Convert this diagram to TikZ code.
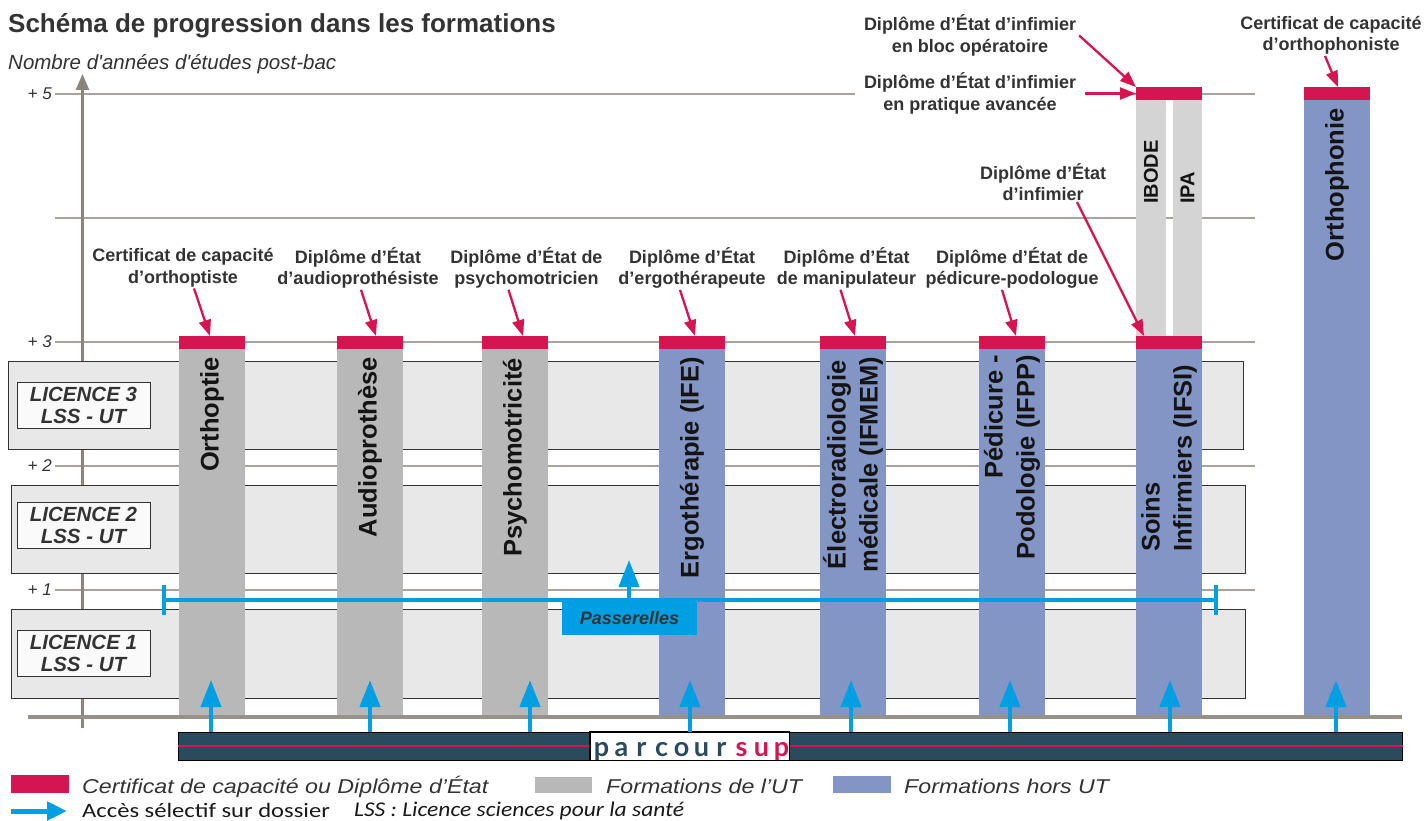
\documentclass[tikz,border=0pt]{standalone}
\usepackage{fontspec}
\setmainfont{Liberation Sans}
\newfontfamily\legfont[FakeStretch=1.16]{Liberation Sans}
\newfontfamily\accfont[FakeStretch=1.2]{Carlito}
\newfontfamily\lssfont[FakeStretch=1.12]{Carlito}
\newfontfamily\logofont{Lato}
\usetikzlibrary{arrows.meta}
\definecolor{crim}{HTML}{D41551}
\definecolor{graybar}{HTML}{B8B8B8}
\definecolor{lightbar}{HTML}{D4D4D4}
\definecolor{bluebar}{HTML}{8395C5}
\definecolor{bandc}{HTML}{E8E8E8}
\definecolor{cyanx}{HTML}{009FE3}
\definecolor{navy}{HTML}{2A4A5E}
\definecolor{txt}{HTML}{333333}
\definecolor{gridc}{HTML}{A8A39B}
\definecolor{axisc}{HTML}{8A857C}
\newcommand\fsz[2]{\fontsize{#1}{#2}\selectfont}
\begin{document}
\begin{tikzpicture}[x=1pt,y=-1pt,
  capbox/.style={fill=crim, minimum width=66pt, minimum height=13pt, inner sep=0pt, outer sep=0pt},
  barlab/.style={rotate=90, font=\fsz{25.5}{32}\bfseries, text=black!92, inner sep=0pt},
  ann/.style={font=\fsz{18}{21.5}\bfseries, text=txt, align=center, inner sep=1pt},
  annarrow/.style={draw=crim, line width=2.3pt, -{Triangle[length=16pt,width=12pt]}},
  acc/.style={draw=cyanx, line width=4pt, -{Triangle[length=27pt,width=20pt]}},
  legarrow/.style={draw=cyanx, line width=5pt, -{Triangle[length=20pt,width=18pt]}},
  gridline/.style={draw=gridc, line width=1.3pt},
  ylab/.style={font=\fsz{17}{20}\itshape, text=txt, anchor=east, inner sep=0pt},
  band/.style={fill=bandc, draw=black!80, line width=1pt},
  lbox/.style={fill=white!98!black, draw=black!80, line width=1pt, minimum width=133pt, minimum height=46pt, align=center, font=\fsz{20.5}{22}\bfseries\itshape, text=txt, inner sep=0pt},
  legbox/.style={inner sep=0pt, outer sep=0pt},
  legtxt/.style={anchor=base west, inner sep=0pt, text=txt},
  logoletter/.style={anchor=base, inner sep=0pt, font=\logofont\bfseries\fsz{27}{30}}
]
\useasboundingbox (0,0) rectangle (1427,821);
\fill[white] (0,0) rectangle (1427,821);

% titles
\node[anchor=base west, inner sep=0pt, font=\fsz{26}{30}\bfseries, text=txt] (title) at (8,32.5) {Schéma de progression dans les formations};
\node[anchor=base west, inner sep=0pt, font=\fsz{20.5}{24}\itshape, text=txt] (subtitle) at (8,70) {Nombre d\textquotesingle années d\textquotesingle études post-bac};

% grid lines and labels
\foreach \yy/\lab in {94/+ 5, 342/+ 3, 466/+ 2, 590/+ 1}{
  \node[ylab] (yl\yy) at (52,\yy) {\lab};
}
\foreach \yy in {94,218,342,466,590}{
  \coordinate (gl\yy) at (55,\yy);
  \coordinate (gr\yy) at (1255,\yy);
  \draw[gridline] (gl\yy) -- (gr\yy);
}

% axis
\coordinate (ax0) at (82.5,728);
\coordinate (ax1) at (82.5,74);
\draw[draw=axisc, line width=2.3pt, -{Triangle[length=16pt,width=13pt]}] (ax0) -- (ax1);

% licence bands
\draw[band] (8,361) rectangle (1243,449);
\draw[band] (11,485) rectangle (1245,573);
\draw[band] (11,609) rectangle (1245,698);
\node[lbox] (L3) at (83.5,405) {LICENCE 3\\LSS - UT};
\node[lbox] (L2) at (83.5,525) {LICENCE 2\\LSS - UT};
\node[lbox] (L1) at (83.5,653.5) {LICENCE 1\\LSS - UT};

% bars
\foreach \l/\r/\c in {179/245/graybar, 337/403/graybar, 482/548/graybar, 659/725/bluebar, 820/886/bluebar, 979/1045/bluebar, 1136/1202/bluebar}{
  \fill[\c] (\l,349) rectangle (\r,717);
}
\fill[bluebar] (1304,100) rectangle (1370,717);
\fill[lightbar] (1136,100) rectangle (1166,336);
\fill[lightbar] (1173,100) rectangle (1202,336);

% caps
\node[capbox] (cap1) at (212,342.5) {};
\node[capbox] (cap2) at (370,342.5) {};
\node[capbox] (cap3) at (515,342.5) {};
\node[capbox] (cap4) at (692,342.5) {};
\node[capbox] (cap5) at (853,342.5) {};
\node[capbox] (cap6) at (1012,342.5) {};
\node[capbox] (cap7) at (1169,342.5) {};
\node[capbox] (capT) at (1169,93.5) {};
\node[capbox] (capO) at (1337,93.5) {};

% bar labels
\node[barlab, anchor=east] (b1) at (212,357) {Orthoptie};
\node[barlab, anchor=east] (b2) at (370,357) {Audioprothèse};
\node[barlab, anchor=east] (b3) at (515,358) {Psychomotricité};
\node[barlab, anchor=east] (b4) at (692,357) {Ergothérapie (IFE)};
\node[barlab, anchor=east, align=center] (b5) at (853,357) {Électroradiologie\\médicale (IFMEM)};
\node[barlab, anchor=east, align=right] (b6) at (1012,355) {Pédicure -\\Podologie (IFPP)};
\node[barlab, anchor=west, align=left] (b7) at (1169,552) {Soins\\Infirmiers (IFSI)};
\node[barlab, anchor=east] (b8) at (1337,108) {Orthophonie};
\node[barlab, anchor=west, font=\fsz{20}{24}\bfseries] (b9) at (1151,204) {IBODE};
\node[barlab, anchor=west, font=\fsz{20}{24}\bfseries] (b10) at (1187.5,204) {IPA};

% passerelles
\coordinate (pL) at (164,600);
\coordinate (pR) at (1216,600);
\draw[cyanx, line width=4pt] (pL) -- (pR);
\draw[cyanx, line width=4pt] ([yshift=15pt]pL) -- ([yshift=-15pt]pL);
\draw[cyanx, line width=4pt] ([yshift=15pt]pR) -- ([yshift=-15pt]pR);
\coordinate (pA) at (629,600);
\coordinate (pAt) at (629,560);
\draw[acc] (pA) -- (pAt);
\node[fill=cyanx, minimum width=135pt, minimum height=33pt, inner sep=0pt, font=\fsz{18}{20}\bfseries\itshape, text=txt] (pass) at (629.5,618.5) {Passerelles};

% baseline
\coordinate (bl0) at (28,717);
\coordinate (bl1) at (1402,717);
\draw[draw=axisc!90!white, line width=3.5pt] (bl0) -- (bl1);

% parcoursup bar
\node[draw=black, line width=1pt, fill=navy, minimum width=1224pt, minimum height=28pt, inner sep=0pt] (pbar) at (790,746) {};
\draw[crim, line width=1.6pt] (pbar.west) -- (pbar.east);
\node[draw=black, line width=1pt, fill=white, minimum width=199pt, minimum height=28pt, inner sep=0pt] (plogo) at (689.5,746) {};
\begin{scope}
\clip (plogo.south west) rectangle (plogo.north east);
\foreach \ch [count=\i from 0] in {p,a,r,c,o,u,r}{
  \node[logoletter, text=navy] (pl\i) at (601.5+\i*20,756) {\ch};
}
\foreach \ch [count=\i from 7] in {s,u,p}{
  \node[logoletter, text=crim] (pl\i) at (601.5+\i*20,756) {\ch};
}
\end{scope}
\draw[black, line width=1pt] (plogo.south west) rectangle (plogo.north east);

% access arrows
\foreach \xx [count=\i] in {211,370,530,690,851,1010,1170,1336}{
  \coordinate (acc\i) at (\xx,680);
  \draw[acc] (acc\i |- pbar.north) -- (acc\i);
}

% annotations
\node[ann] (lab1) at (183,268) {Certificat de capacité\\d’orthoptiste};
\node[ann] (lab2) at (358,268) {Diplôme d’État\\d’audioprothésiste};
\node[ann] (lab3) at (526.5,268) {Diplôme d’État de\\psychomotricien};
\node[ann] (lab4) at (692,268) {Diplôme d’État\\d’ergothérapeute};
\node[ann] (lab5) at (846.5,268) {Diplôme d’État\\de manipulateur};
\node[ann] (lab6) at (1012,268) {Diplôme d’État de\\pédicure-podologue};
\node[ann] (lab7) at (1043,182) {Diplôme d’État\\d’infimier};
\node[ann] (lab8) at (970,35.5) {Diplôme d’État d’infimier\\en bloc opératoire};
\node[ann, fill=white, inner xsep=9pt] (lab9) at (970,93.5) {Diplôme d’État d’infimier\\en pratique avancée};
\node[ann] (lab10) at (1331,35.5) {Certificat de capacité\\d’orthophoniste};

\draw[annarrow] ([xshift=11pt]lab1.south) -- ([xshift=-2pt]cap1.north);
\draw[annarrow] ([xshift=3pt]lab2.south) -- ([xshift=6pt]cap2.north);
\draw[annarrow] ([xshift=-18pt]lab3.south) -- ([xshift=8pt]cap3.north);
\draw[annarrow] ([xshift=-12pt]lab4.south) -- ([xshift=3pt]cap4.north);
\draw[annarrow] ([xshift=-6pt]lab5.south) -- ([xshift=2pt]cap5.north);
\draw[annarrow] ([xshift=-10pt]lab6.south) -- ([xshift=4pt]cap6.north);
\draw[annarrow] ([xshift=34pt]lab7.south) -- ([xshift=-25pt]cap7.north);
\draw[annarrow] ([xshift=2pt]lab8.east) -- (capT.north west);
\draw[annarrow] (lab9.east) -- (capT.west);
\draw[annarrow] ([xshift=-6pt]lab10.south) -- ([xshift=1pt]capO.north);

% legend
\node[legbox, fill=crim, minimum width=58pt, minimum height=18pt] (lg1) at (40,784) {};
\node[legtxt, font=\legfont\fsz{20}{24}\itshape] (lt1) at (82,793) {Certificat de capacité ou Diplôme d’État};
\node[legbox, fill=graybar, minimum width=57pt, minimum height=16pt] (lg2) at (563.5,785) {};
\node[legtxt, font=\legfont\fsz{20}{24}\itshape] (lt2) at (606,793) {Formations de l’UT};
\node[legbox, fill=bluebar, minimum width=58pt, minimum height=17pt] (lg3) at (862,784.5) {};
\node[legtxt, font=\legfont\fsz{20}{24}\itshape] (lt3) at (904,793) {Formations hors UT};
\coordinate (la0) at (11,811);
\coordinate (la1) at (67,811);
\draw[legarrow] (la0) -- (la1);
\node[legtxt, font=\accfont\fsz{20.5}{24}, text=black!90] (lt4) at (82,817) {Accès sélectif sur dossier};
\node[legtxt, font=\lssfont\fsz{21}{24}\itshape, text=black!90] (lt5) at (354,816) {LSS : Licence sciences pour la santé};
\end{tikzpicture}
\end{document}
